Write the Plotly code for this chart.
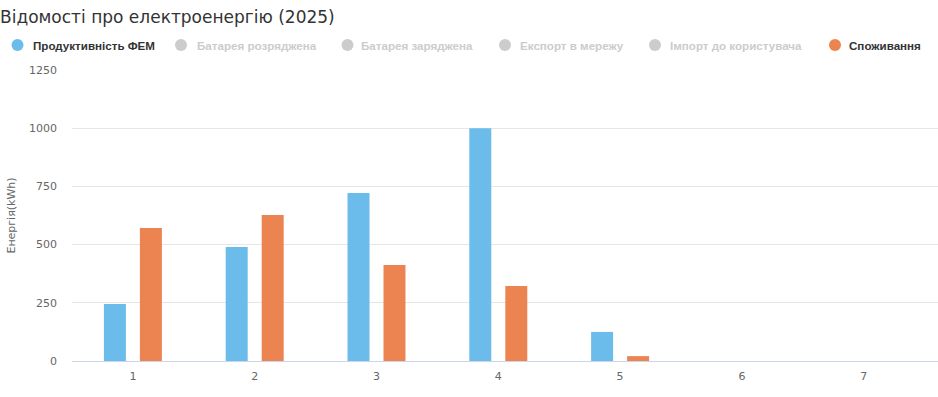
import plotly.graph_objects as go

# ---- data ----
categories = ["1", "2", "3", "4", "5", "6", "7"]
pv_output = [245, 490, 722, 1000, 125, 0, 0]
consumption = [571, 627, 412, 322, 21, 0, 0]

legend_names = ["Продуктивність ФЕМ", "Батарея розряджена", "Батарея заряджена",
                "Експорт в мережу", "Імпорт до користувача", "Споживання"]
legend_active = [True, False, False, False, False, True]
legend_colors = ["#6BBCEB", "#CCCCCC", "#CCCCCC", "#CCCCCC", "#CCCCCC", "#EC8451"]

title_text = "Відомості про електроенергію (2025)"
y_title = "Енергія(kWh)"

# ---- layout geometry ----
W, H = 938, 397
ML, MR, MT, MB = 72, 0, 70, 36
PW, PH = W - ML - MR, H - MT - MB
CAT_PX = 121.8  # pixel width of one category band


def px_x(p):
    return (p - ML) / PW


def px_y(p):
    return (H - MB - p) / PH


fig = go.Figure()
fig.add_trace(go.Bar(x=categories, y=pv_output, name=legend_names[0],
                     marker=dict(color=legend_colors[0], line=dict(width=0)),
                     showlegend=False))
fig.add_trace(go.Bar(x=categories, y=consumption, name=legend_names[5],
                     marker=dict(color=legend_colors[5], line=dict(width=0)),
                     showlegend=False))

# custom legend (ECharts style)
circle_centers = [17.5, 181, 347.5, 505, 655, 835]
text_starts = [30.5, 195, 359, 518, 668, 847]
legend_y = 45
shapes = []
annotations = []
for name, active, col, cx, tx in zip(legend_names, legend_active, legend_colors,
                                     circle_centers, text_starts):
    r = 6
    shapes.append(dict(type="circle", xref="paper", yref="paper",
                       x0=px_x(cx - r), x1=px_x(cx + r),
                       y0=px_y(legend_y + r), y1=px_y(legend_y - r),
                       fillcolor=col, line=dict(width=0)))
    annotations.append(dict(text=name, xref="paper", yref="paper",
                            x=px_x(tx), y=px_y(legend_y), xanchor="left",
                            yanchor="middle", showarrow=False,
                            font=dict(family="Liberation Sans", size=11.6,
                                      color="#333333" if active else "#CCCCCC",
                                      weight="bold")))

x_hi = -0.5 + PW / CAT_PX

fig.update_layout(
    width=W, height=H,
    margin=dict(l=ML, r=MR, t=MT, b=MB),
    paper_bgcolor="white", plot_bgcolor="white",
    title=dict(text=title_text, x=0, xref="container", xanchor="left",
               y=1 - 17 / H, yref="container", yanchor="middle", pad=dict(l=0, t=0, b=0, r=0),
               font=dict(family="DejaVu Sans", size=17, color="#333333")),
    barmode="group", bargap=0.409, bargroupgap=0.389,
    showlegend=False,
    shapes=shapes, annotations=annotations,
    xaxis=dict(type="category", range=[-0.5, x_hi], showline=True,
               linecolor="#CCD6EB", linewidth=1,
               showgrid=False, ticks="", ticklabelstandoff=5,
               tickfont=dict(family="DejaVu Sans", size=11, color="#666666")),
    yaxis=dict(range=[0, 1250], dtick=250, tick0=0, showgrid=True,
               gridcolor="#E6E6E6", gridwidth=1, zeroline=False, showline=False,
               ticks="", ticklabelstandoff=14,
               tickfont=dict(family="DejaVu Sans", size=11, color="#666666"),
               title=dict(text=y_title, standoff=11,
                          font=dict(family="DejaVu Sans", size=11, color="#666666"))),
)

fig.write_html("out.html")
